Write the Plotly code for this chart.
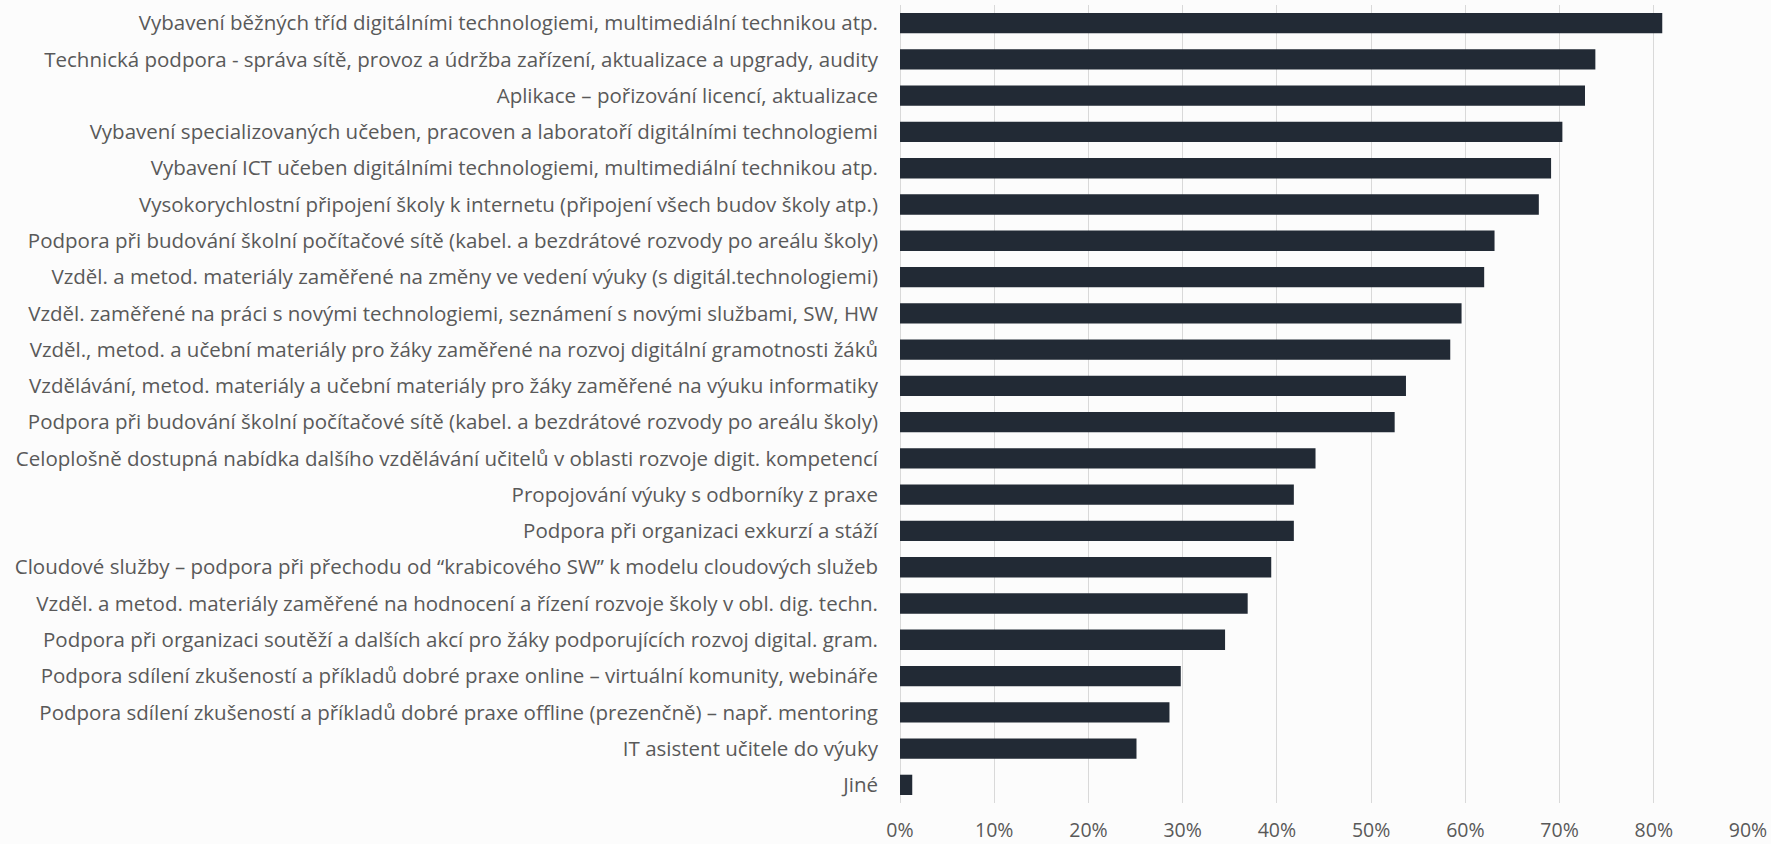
import plotly.graph_objects as go

# kategorie (shora dolů) a podíl škol
categories = [
    "Vybavení běžných tříd digitálními technologiemi, multimediální technikou atp.",
    "Technická podpora - správa sítě, provoz a údržba zařízení, aktualizace a upgrady, audity",
    "Aplikace – pořizování licencí, aktualizace",
    "Vybavení specializovaných učeben, pracoven a laboratoří digitálními technologiemi",
    "Vybavení ICT učeben digitálními technologiemi, multimediální technikou atp.",
    "Vysokorychlostní připojení školy k internetu (připojení všech budov školy atp.)",
    "Podpora při budování školní počítačové sítě (kabel. a bezdrátové rozvody po areálu školy)",
    "Vzděl. a metod. materiály zaměřené na změny ve vedení výuky (s digitál.technologiemi)",
    "Vzděl. zaměřené na práci s novými technologiemi, seznámení s novými službami, SW, HW",
    "Vzděl., metod. a učební materiály pro žáky zaměřené na rozvoj digitální gramotnosti žáků",
    "Vzdělávání, metod. materiály a učební materiály pro žáky zaměřené na výuku informatiky",
    "Podpora při budování školní počítačové sítě (kabel. a bezdrátové rozvody po areálu školy)",
    "Celoplošně dostupná nabídka dalšího vzdělávání učitelů v oblasti rozvoje digit. kompetencí",
    "Propojování výuky s odborníky z praxe",
    "Podpora při organizaci exkurzí a stáží",
    "Cloudové služby – podpora při přechodu od “krabicového SW” k modelu cloudových služeb",
    "Vzděl. a metod. materiály zaměřené na hodnocení a řízení rozvoje školy v obl. dig. techn.",
    "Podpora při organizaci soutěží a dalších akcí pro žáky podporujících rozvoj digital. gram.",
    "Podpora sdílení zkušeností a příkladů dobré praxe online – virtuální komunity, webináře",
    "Podpora sdílení zkušeností a příkladů dobré praxe offline (prezenčně) – např. mentoring",
    "IT asistent učitele do výuky",
    "Jiné",
]
values = [0.809, 0.738, 0.727, 0.703, 0.691, 0.678, 0.631, 0.620, 0.596, 0.584, 0.537,
          0.525, 0.441, 0.418, 0.418, 0.394, 0.369, 0.345, 0.298, 0.286, 0.251, 0.013]
x_ticks = [0, 0.1, 0.2, 0.3, 0.4, 0.5, 0.6, 0.7, 0.8, 0.9]

# jedna kategorie je v datech dvakrát, proto pozice místo textu
positions = list(range(len(categories)))

fig = go.Figure()
fig.add_trace(go.Bar(
    x=values,
    y=positions,
    orientation="h",
    width=0.56,
    marker=dict(color="#222a35", line=dict(width=0)),
))

fig.update_layout(
    width=1771, height=844,
    margin=dict(l=900, r=23, t=5, b=41),
    paper_bgcolor="#fcfcfc",
    plot_bgcolor="#fcfcfc",
    font=dict(family="Open Sans", size=20.5, color="#595959"),
    showlegend=False,
    xaxis=dict(
        range=[0, 0.9],
        tickvals=x_ticks,
        tickformat=".0%",
        showgrid=True,
        gridcolor="#d9d9d9",
        gridwidth=1,
        zeroline=True,
        zerolinecolor="#d9d9d9",
        zerolinewidth=1,
        showline=False,
        ticks="",
        ticklabelstandoff=13,
        tickfont=dict(size=19.5),
        automargin=False,
    ),
    yaxis=dict(
        range=[len(categories) - 0.5, -0.5],
        tickvals=positions,
        ticktext=categories,
        showgrid=False,
        zeroline=False,
        showline=False,
        ticks="",
        ticklabelstandoff=21,
        automargin=False,
    ),
)

# bez okraje stránky, aby graf seděl přesně na okno
fig.write_html("out.html", config={"displayModeBar": False},
               post_script="document.body.style.margin='0';")
